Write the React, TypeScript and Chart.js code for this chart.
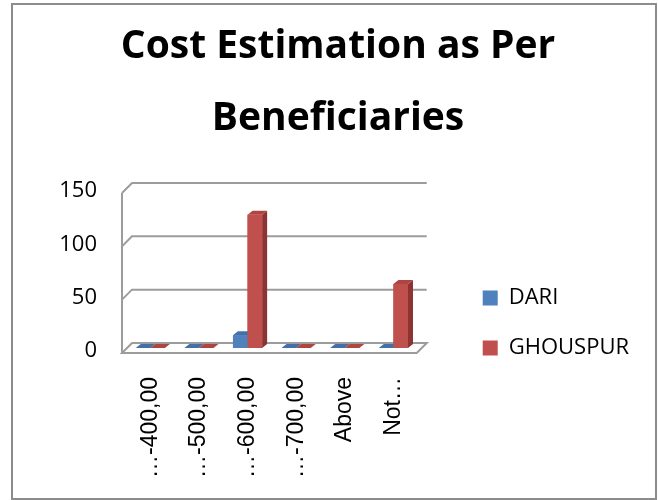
import React, { useEffect, useRef } from 'react';
import { Chart, registerables } from 'chart.js';

Chart.register(...registerables);

const categories = ['\u2026-400,00', '\u2026-500,00', '\u2026-600,00', '\u2026-700,00', 'Above', 'Not\u2026'];
const dariValues = [0, 0, 12, 0, 0, 0];
const ghouspurValues = [0, 0, 125, 0, 0, 60];
const yTickValues = [0, 50, 100, 150];
const titleLines = ['Cost Estimation as Per', 'Beneficiaries'];
const seriesNames = ['DARI', 'GHOUSPUR'];

const FRONT = 5;
const BAR_DX = 5;
const BAR_DY = 4;

const faceColors: Record<number, { top: string; side: string }> = {
  0: { top: '#4470a8', side: '#365b8a' },
  1: { top: '#b0443f', side: '#8c3431' },
};

const threeD = {
  id: 'threeD',
  beforeDatasetsDraw(chart: any) {
    const { ctx, chartArea, scales } = chart;
    const y = scales.y;
    const fl = chartArea.left - 4;
    const fr = chartArea.right - 1;
    const d = FRONT * 2;
    ctx.save();
    ctx.strokeStyle = '#9c9c9c';
    ctx.lineWidth = 2;
    const y0 = y.getPixelForValue(0);
    ctx.beginPath();
    ctx.moveTo(fl, y0 + FRONT);
    ctx.lineTo(fr, y0 + FRONT);
    ctx.lineTo(fr + d, y0 - FRONT);
    ctx.lineTo(fl + d, y0 - FRONT);
    ctx.closePath();
    ctx.fillStyle = '#ffffff';
    ctx.fill();
    ctx.stroke();
    for (const v of yTickValues) {
      if (v === 0) continue;
      const py = y.getPixelForValue(v);
      ctx.beginPath();
      ctx.moveTo(fl, py + FRONT);
      ctx.lineTo(fl + d, py - FRONT);
      ctx.lineTo(fr + d, py - FRONT);
      ctx.stroke();
    }
    const yTop = y.getPixelForValue(yTickValues[yTickValues.length - 1]);
    ctx.beginPath();
    ctx.moveTo(fl, y0 + FRONT);
    ctx.lineTo(fl, yTop + FRONT);
    ctx.stroke();
    ctx.restore();
  },
  afterDatasetsDraw(chart: any) {
    const ctx = chart.ctx;
    const n = chart.data.labels.length;
    const metas = chart.data.datasets.map((_: any, i: number) => chart.getDatasetMeta(i));
    ctx.save();
    for (let j = 0; j < n; j++) {
      for (const meta of metas) {
        const bar = meta.data[j];
        if (!bar) continue;
        const { x, y, base, width } = bar.getProps(['x', 'y', 'base', 'width'], true);
        const l = x - width / 2;
        const r = x + width / 2;
        const c = faceColors[meta.index];
        ctx.beginPath();
        ctx.moveTo(r, y);
        ctx.lineTo(r + BAR_DX, y - BAR_DY);
        ctx.lineTo(r + BAR_DX, base - BAR_DY);
        ctx.lineTo(r, base);
        ctx.closePath();
        ctx.fillStyle = c.side;
        ctx.fill();
        ctx.beginPath();
        ctx.moveTo(l, y);
        ctx.lineTo(l + BAR_DX, y - BAR_DY);
        ctx.lineTo(r + BAR_DX, y - BAR_DY);
        ctx.lineTo(r, y);
        ctx.closePath();
        ctx.fillStyle = c.top;
        ctx.fill();
        bar.draw(ctx);
      }
    }
    ctx.restore();
  },
  afterDraw(chart: any) {
    const ctx = chart.ctx;
    ctx.save();
    ctx.strokeStyle = '#8c8c8c';
    ctx.lineWidth = 2;
    ctx.strokeRect(12, 4, 644, 495);
    ctx.restore();
  },
};

export default function App() {
  const ref = useRef<HTMLCanvasElement | null>(null);
  useEffect(() => {
    if (!ref.current) return;
    const chart = new Chart(ref.current, {
      type: 'bar',
      data: {
        labels: categories,
        datasets: [
          { label: seriesNames[0], data: dariValues, backgroundColor: '#4f81bd', borderWidth: 0 },
          { label: seriesNames[1], data: ghouspurValues, backgroundColor: '#c0504d', borderWidth: 0 },
        ],
      },
      options: {
        responsive: false,
        animation: false,
        devicePixelRatio: 1,
        events: [],
        layout: { padding: { left: 37, right: 19, top: 0, bottom: 0 } },
        datasets: { bar: { categoryPercentage: 0.6, barPercentage: 1 } },
        scales: {
          x: {
            grid: { display: false, drawTicks: false },
            border: { display: false },
            ticks: {
              minRotation: 90,
              maxRotation: 90,
              autoSkip: false,
              padding: 29,
              color: '#000',
              font: { family: '"Liberation Sans", Arial, sans-serif', size: 23 },
            },
            afterFit(s: any) { s.height = 152; },
          },
          y: {
            min: 0,
            max: 150,
            grid: { display: false, drawTicks: false },
            border: { display: false },
            ticks: {
              stepSize: 50,
              padding: 29,
              labelOffset: 3,
              color: '#000',
              font: { family: '"Open Sans", sans-serif', size: 22 },
            },
            afterFit(s: any) { s.width = 89; },
          },
          y2: {
            position: 'right',
            display: true,
            grid: { display: false, drawTicks: false },
            border: { display: false },
            ticks: { display: false },
            afterFit(s: any) { s.width = 37; },
          },
        },
        plugins: {
          title: {
            display: true,
            text: titleLines,
            color: '#000',
            font: { family: '"Open Sans", sans-serif', size: 39, weight: 'bold', lineHeight: 72 / 39 },
            padding: { top: 10.5, bottom: 33.5 },
          },
          legend: {
            position: 'right',
            align: 'start',
            maxWidth: 400,
            title: { display: true, text: ' ', font: { size: 10 }, padding: { top: 247, bottom: 0 } },
            labels: {
              boxWidth: 15,
              boxHeight: 15,
              padding: 28,
              color: '#000',
              font: { family: '"Open Sans", sans-serif', size: 22 },
            },
          },
          tooltip: { enabled: false },
        },
      },
      plugins: [threeD],
    } as any);
    return () => chart.destroy();
  }, []);
  return (
    <div style={{ position: 'absolute', left: 0, top: 0, width: 658, height: 500 }}>
      <canvas ref={ref} width={658} height={500} />
    </div>
  );
}
